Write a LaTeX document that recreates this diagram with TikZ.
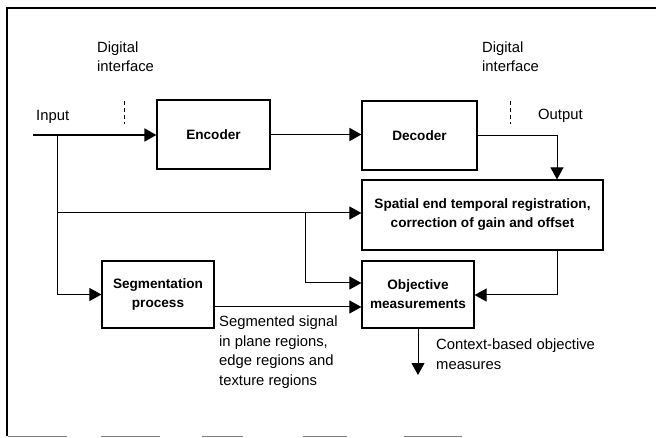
\documentclass[tikz,border=0pt]{standalone}
\usepackage{fontspec}
\setmainfont{Liberation Sans}
\usetikzlibrary{arrows.meta}
\begin{document}
\begin{tikzpicture}[x=1pt,y=-1pt,
  box/.style={draw,line width=1.2pt,inner sep=0pt,align=center,
    font=\fontsize{13.6}{19}\selectfont\bfseries},
  lbl/.style={inner sep=0pt,align=left,anchor=base west,
    font=\fontsize{14.8}{19.5}\selectfont},
  conn/.style={line width=1pt,-{Triangle[length=12pt,width=13pt]}},
  mainconn/.style={line width=1.8pt,-{Triangle[length=12pt,width=13pt]}},
  iface/.style={line width=1pt,dash pattern=on 4pt off 3pt},
  frame/.style={line width=2.5pt},
  scanline/.style={line width=1pt,gray}]
\useasboundingbox (0,0) rectangle (656,438);

% frame
\draw[frame] (7,436) -- (7,8) -- (656,8);
\foreach \a/\b in {8/67,101/160,202/243,303/347,404/462}
  \draw[scanline] (\a,436.5) -- (\b,436.5);

% boxes
\node[box,minimum width=113pt,minimum height=69pt] (enc) at (213.5,134.5) {Encoder};
\node[box,minimum width=115pt,minimum height=69pt] (dec) at (419.5,135.5) {Decoder};
\node[box,minimum width=241pt,minimum height=70pt] (reg) at (482.5,215) {Spatial end temporal registration,\\correction of gain and offset};
\node[box,minimum width=112pt,minimum height=67pt] (obj) at (418,294.5) {Objective\\measurements};
\node[box,minimum width=112pt,minimum height=67pt] (seg) at (158,294.5) {Segmentation\\process};

% labels (base = baseline of last line)
\node[lbl] (dil) at (97,72) {Digital\\interface};
\node[lbl] (dir) at (482,72) {Digital\\interface};
\node[lbl] (inl) at (36,121) {Input};
\node[lbl] (outl) at (538,120) {Output};
\node[lbl] (segl) at (219,385) {Segmented signal\\in plane regions,\\edge regions and\\texture regions};
\node[lbl] (ctxl) at (436,369) {Context-based objective\\measures};

% digital interface marks
\coordinate (ifl1) at (124,101); \coordinate (ifl2) at (124,124);
\coordinate (ifr1) at (510,101); \coordinate (ifr2) at (510,124);
\draw[iface] (ifl1) -- (ifl2);
\draw[iface] (ifr1) -- (ifr2);

% coordinates
\coordinate (in) at (33,135);
\coordinate (br1) at (57,135);
\coordinate (br2) at (305,213);
\coordinate (dout) at (557,136);
\coordinate (rout) at (557,295);
\coordinate (objout) at (418,375);

% connectors
\draw[mainconn] (in) -- (enc.west |- in);
\draw[mainconn] (enc.east) -- (dec.west |- enc.east);
\draw[conn] (dec.east |- dout) -- (dout) -- (dout |- reg.north);
\draw[conn] (br1) -- (br1 |- br2) -- (reg.west |- br2);
\draw[conn] (br1) -- (br1 |- seg.west) -- (seg.west);
\draw[conn] (br2) -- (305,283) -- (obj.west |- 0,283);
\draw[conn] (seg.east |- 0,307) -- (obj.west |- 0,307);
\draw[conn] (reg.south -| rout) -- (rout) -- (obj.east |- rout);
\draw[conn] (obj.south) -- (objout);
\end{tikzpicture}
\end{document}
